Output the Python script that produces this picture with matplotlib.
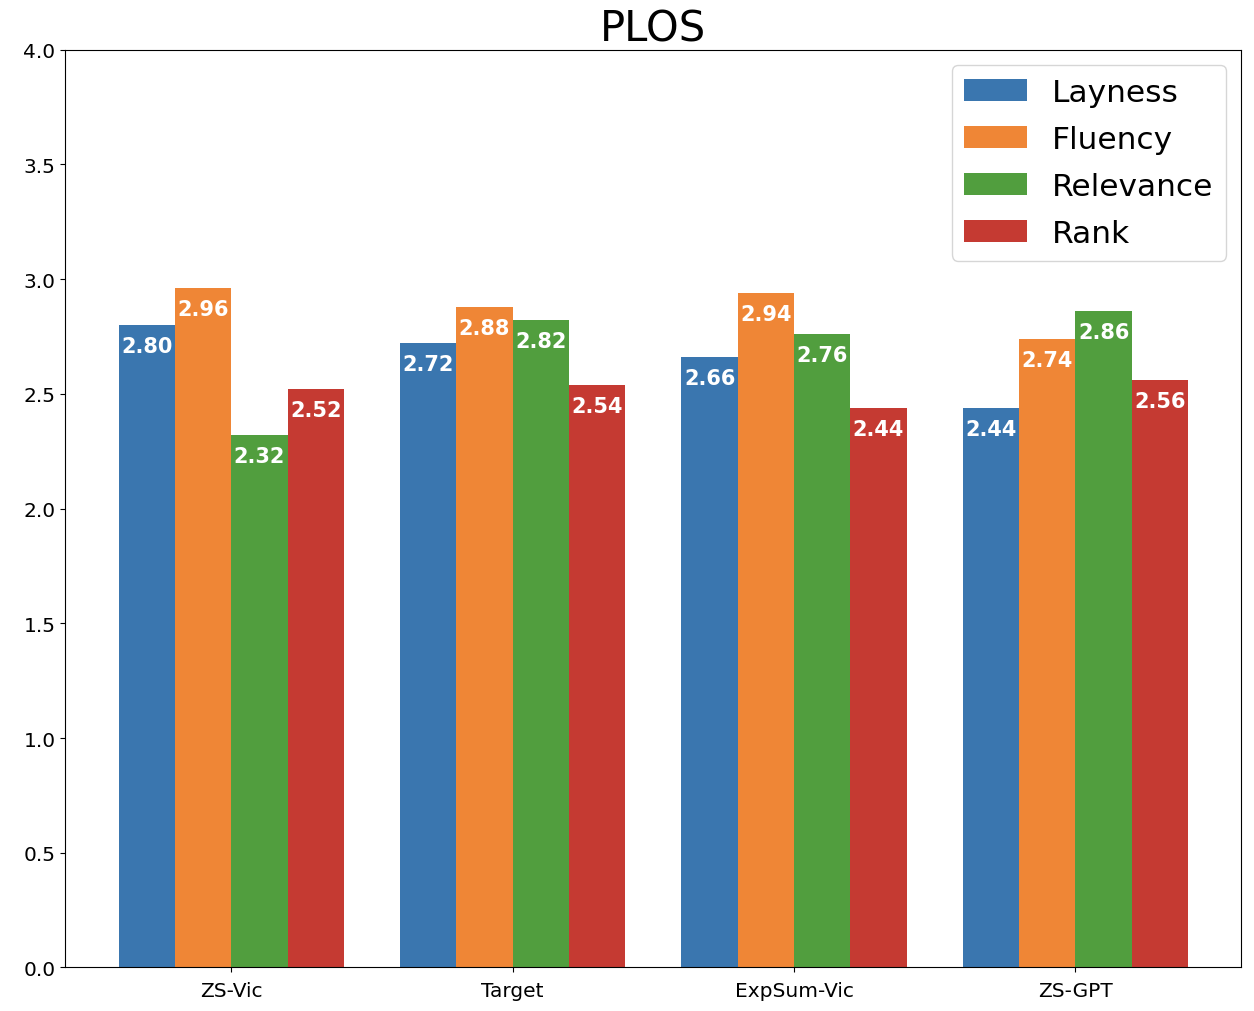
import numpy as np
from matplotlib import pyplot as plt

models = ["ZS-Vic", "Target", "ExpSum-Vic", "ZS-GPT"]
layness = [2.80, 2.72, 2.66, 2.44]
fluency = [2.96, 2.88, 2.94, 2.74]
relevance = [2.32, 2.82, 2.76, 2.86]
rank = [2.52, 2.54, 2.44, 2.56]

series = [("Layness", layness, "#3a76af"),
          ("Fluency", fluency, "#ef8636"),
          ("Relevance", relevance, "#519e3e"),
          ("Rank", rank, "#c53a32")]

fig, ax = plt.subplots(figsize=(12.54, 10.12), dpi=100)
x = np.arange(len(models))
width = 0.2
for i, (name, vals, color) in enumerate(series):
    pos = x + (i - 1.5) * width
    ax.bar(pos, vals, width, label=name, color=color)
    for px, v in zip(pos, vals):
        ax.text(px, v - 0.048, "{:.2f}".format(v), ha="center", va="top",
                color="white", fontsize=15, fontweight="bold")

ax.set_ylim(0, 4.0)
ax.set_xticks(x)
ax.set_xticklabels(models, fontsize=14.5)
ax.tick_params(axis="x", pad=6)
ax.tick_params(axis="y", labelsize=14.5)
ax.set_title("PLOS", fontsize=30, pad=4)
ax.legend(fontsize=22.5, loc="upper right", borderaxespad=0.5,
          labelspacing=0.58)

plt.subplots_adjust(left=0.052, right=0.99, bottom=0.043, top=0.95)
fig.savefig("out.png")
